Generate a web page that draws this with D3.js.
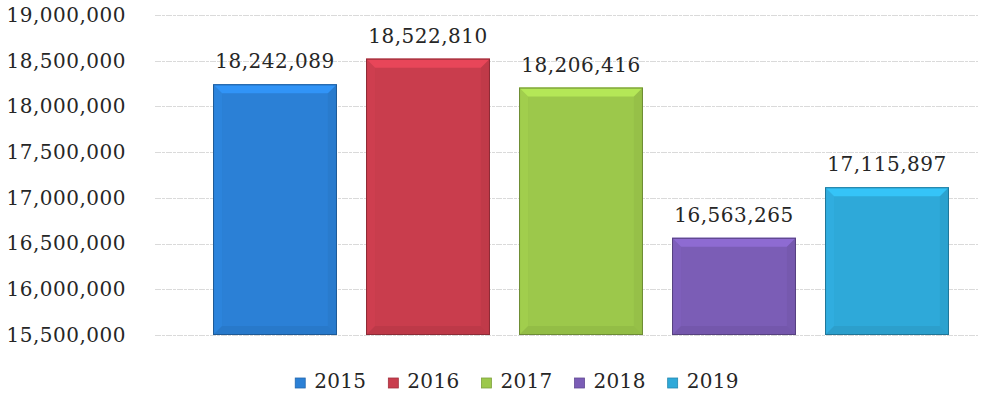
<!DOCTYPE html>
<html>
<head>
<meta charset="utf-8">
<script src="https://cdn.jsdelivr.net/npm/d3@7"></script>
<style>
  html, body { margin: 0; padding: 0; background: #fff; }
  svg { display: block; }
  text { font-family: "DejaVu Serif", serif; fill: #262626; }
</style>
</head>
<body>
<svg id="chart" width="1000" height="400"></svg>
<script>
const categories = ["2015", "2016", "2017", "2018", "2019"];
const values = [18242089, 18522810, 18206416, 16563265, 17115897];
const colors = ["#2b80d6", "#c93d4d", "#9cc84b", "#7b5db6", "#2ea9d9"];
const yTicks = [15500000, 16000000, 16500000, 17000000, 17500000, 18000000, 18500000, 19000000];

const svg = d3.select("#chart");
const fmt = d3.format(",");

const x = d3.scaleBand().domain(categories).range([198.5, 963.5]).paddingInner(0.19).paddingOuter(0.095);
const y = d3.scaleLinear().domain([15500000, 19000000]).range([335, 15]);

// gridlines
svg.append("g").selectAll("line").data(yTicks).join("line")
  .attr("x1", 155).attr("x2", 978)
  .attr("y1", d => Math.round(y(d)) + 0.5).attr("y2", d => Math.round(y(d)) + 0.5)
  .attr("stroke", "#dadada").attr("stroke-width", 1)
  .attr("stroke-dasharray", "6,1,3,1");

// y axis labels
const yAxis = d3.axisLeft(y).tickValues(yTicks).tickFormat(fmt).tickSize(0).tickPadding(0);
const ag = svg.append("g").attr("transform", "translate(126,0)").call(yAxis);
ag.select(".domain").remove();
ag.selectAll("text").attr("font-family", "DejaVu Serif, serif").attr("font-size", 20).attr("fill", "#262626").attr("letter-spacing", "0.5px");

// bars with bevel
const bev = 9;
const bars = svg.append("g").selectAll("g").data(categories).join("g");
bars.each(function(c, i) {
  const g = d3.select(this);
  const x0 = x(c), w = x.bandwidth();
  const y0 = y(values[i]), y1 = y(15500000);
  const base = d3.color(colors[i]);
  g.append("rect").attr("x", x0).attr("y", y0).attr("width", w).attr("height", y1 - y0).attr("fill", base);
  const x1 = x0 + w;
  const top = `${x0},${y0} ${x1},${y0} ${x1-bev},${y0+bev} ${x0+bev},${y0+bev}`;
  const left = `${x0},${y0} ${x0+bev},${y0+bev} ${x0+bev},${y1-bev} ${x0},${y1}`;
  const right = `${x1},${y0} ${x1},${y1} ${x1-bev},${y1-bev} ${x1-bev},${y0+bev}`;
  const bottom = `${x0},${y1} ${x0+bev},${y1-bev} ${x1-bev},${y1-bev} ${x1},${y1}`;
  g.append("polygon").attr("points", top).attr("fill", base.brighter(0.5)).attr("opacity", 0.8);
  g.append("polygon").attr("points", left).attr("fill", base.brighter(0.15)).attr("opacity", 0.5);
  g.append("polygon").attr("points", right).attr("fill", base.darker(0.25)).attr("opacity", 0.5);
  g.append("polygon").attr("points", bottom).attr("fill", base.darker(0.35)).attr("opacity", 0.5);
  g.append("rect").attr("x", x0 + 0.5).attr("y", y0 + 0.5).attr("width", w - 1).attr("height", y1 - y0 - 1)
    .attr("fill", "none").attr("stroke", base.darker(1)).attr("stroke-width", 1);
  g.append("text").attr("x", x0 + w / 2).attr("y", y0 - 16).attr("text-anchor", "middle")
    .attr("font-size", 20).attr("letter-spacing", "0.5px").text(fmt(values[i]));
});

// legend
const lg = svg.append("g");
const items = lg.selectAll("g").data(categories).join("g");
items.append("rect").attr("width", 10).attr("height", 10).attr("y", -10)
  .attr("fill", (d, i) => colors[i]).attr("stroke", (d, i) => d3.color(colors[i]).darker(0.6)).attr("stroke-width", 0.8);
items.append("text").attr("x", 19).attr("y", 0).attr("font-size", 20).attr("letter-spacing", "0.3px").text(d => d);
const gap = 22;
items.each(function() {
  d3.select(this).attr("data-w", this.getBBox().width);
});
let total = 0;
items.each(function(d, i) { total += +this.getAttribute("data-w") + (i ? gap : 0); });
let start = 517 - total / 2;
items.each(function() {
  d3.select(this).attr("transform", `translate(${start},388)`);
  start += +this.getAttribute("data-w") + gap;
});
</script>
</body>
</html>
